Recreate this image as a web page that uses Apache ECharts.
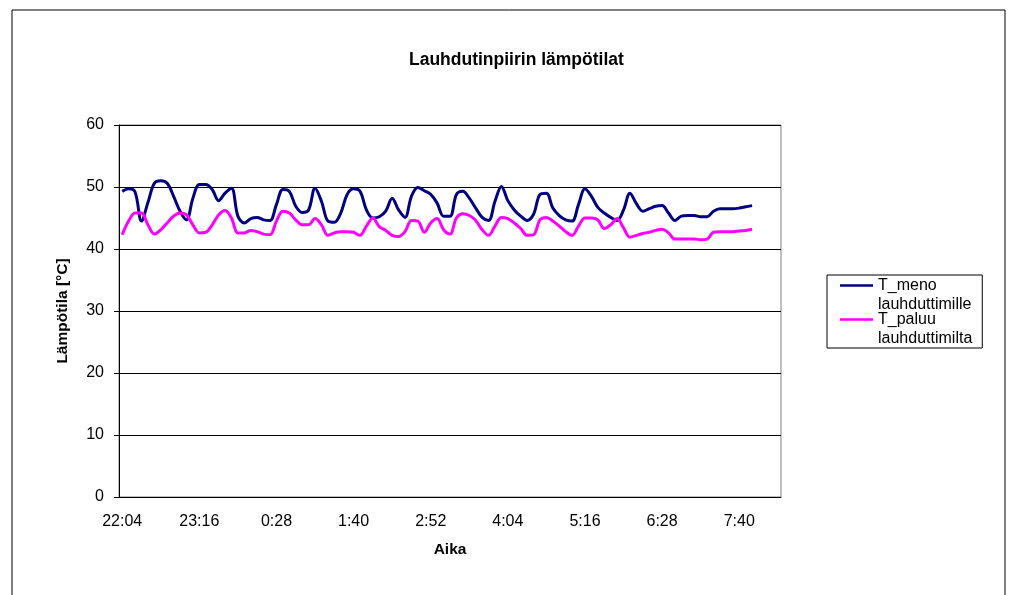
<!DOCTYPE html>
<html>
<head>
<meta charset="utf-8">
<script src="https://cdn.jsdelivr.net/npm/echarts@6/dist/echarts.min.js"></script>
<style>
  html, body { margin: 0; padding: 0; background: #fff; }
  #chart { width: 1013px; height: 595px; }
</style>
</head>
<body>
<div id="chart"></div>
<script>
// aikaleimat 6 min välein
const categories = [
  '22:04', '22:10', '22:16', '22:22', '22:28', '22:34', '22:40', '22:46', '22:52', '22:58', '23:04', '23:10',
  '23:16', '23:22', '23:28', '23:34', '23:40', '23:46', '23:52', '23:58', '0:04', '0:10', '0:16', '0:22',
  '0:28', '0:34', '0:40', '0:46', '0:52', '0:58', '1:04', '1:10', '1:16', '1:22', '1:28', '1:34',
  '1:40', '1:46', '1:52', '1:58', '2:04', '2:10', '2:16', '2:22', '2:28', '2:34', '2:40', '2:46',
  '2:52', '2:58', '3:04', '3:10', '3:16', '3:22', '3:28', '3:34', '3:40', '3:46', '3:52', '3:58',
  '4:04', '4:10', '4:16', '4:22', '4:28', '4:34', '4:40', '4:46', '4:52', '4:58', '5:04', '5:10',
  '5:16', '5:22', '5:28', '5:34', '5:40', '5:46', '5:52', '5:58', '6:04', '6:10', '6:16', '6:22',
  '6:28', '6:34', '6:40', '6:46', '6:52', '6:58', '7:04', '7:10', '7:16', '7:22', '7:28', '7:34',
  '7:40', '7:46', '7:52', '7:58', '8:04', '8:10', '8:16'
]

const tMeno = [
  49.3, 49.7, 49.2, 44.5, 47.5, 50.6, 51.0, 50.6, 48.5, 46.1,
  44.7, 48.2, 50.4, 50.4, 49.6, 47.8, 49.0, 49.8, 45.3, 44.2,
  44.9, 45.1, 44.7, 44.6, 47.2, 49.6, 49.3, 46.9, 45.9, 46.3,
  49.8, 47.7, 44.5, 44.3, 45.8, 48.8, 49.7, 49.3, 46.3, 45.0,
  45.2, 46.1, 48.2, 46.3, 45.1, 48.5, 49.9, 49.4, 48.8, 47.4,
  45.3, 45.3, 48.8, 49.3, 48.2, 46.6, 45.1, 44.6, 47.7, 50.1,
  47.8, 46.3, 45.3, 44.6, 45.6, 48.8, 49.0, 46.6, 45.4, 44.7,
  44.5, 47.2, 49.7, 48.5, 46.7, 45.8, 45.1, 44.6, 46.3, 49.0,
  47.3, 46.1, 46.5, 46.9, 47.0, 45.8, 44.6, 45.3, 45.4, 45.4,
  45.2, 45.2, 46.1, 46.5, 46.5, 46.5, 46.6, 46.8, 47.0
]

const tPaluu = [
  42.3, 44.5, 45.8, 45.8, 43.9, 42.4, 43.1, 44.2, 45.3, 45.8,
  45.5, 43.9, 42.6, 42.7, 43.9, 45.5, 46.2, 45.0, 42.6, 42.6,
  43.0, 42.8, 42.4, 42.3, 44.5, 46.1, 45.8, 44.7, 43.9, 43.9,
  44.9, 43.9, 42.2, 42.6, 42.8, 42.8, 42.7, 42.2, 43.7, 45.0,
  43.6, 43.0, 42.2, 42.0, 42.8, 44.6, 44.5, 42.7, 44.2, 44.9,
  43.1, 42.4, 45.0, 45.7, 45.4, 44.6, 43.1, 42.2, 43.7, 45.1,
  44.9, 44.2, 43.3, 42.2, 42.3, 44.7, 45.1, 44.5, 43.7, 42.8,
  42.2, 43.7, 45.0, 45.0, 44.7, 43.3, 43.9, 44.9, 43.4, 41.9,
  42.2, 42.5, 42.7, 43.0, 43.2, 42.6, 41.6, 41.6, 41.6, 41.6,
  41.5, 41.6, 42.7, 42.8, 42.8, 42.8, 42.9, 43.0, 43.2
]

const yTicks = { min: 0, max: 60, interval: 10 }

const font = 'Liberation Sans, Arial, sans-serif'
// selitteen viiva ensimmäisen tekstirivin kohdalle
const legendIcon = 'path://M0,0h0.05v0.05h-0.05zM0,8.3h33v2.4h-33zM32.95,37.95h0.05v0.05h-0.05z'

const chart = echarts.init(document.getElementById('chart'))

chart.setOption({
  animation: false,
  backgroundColor: '#fff',
  title: {
    text: 'Lauhdutinpiirin lämpötilat',
    left: 404,
    top: 46,
    textStyle: { fontFamily: font, fontSize: 17.5, fontWeight: 'bold', color: '#000' }
  },
  graphic: [{
    type: 'rect',
    shape: { x: 12, y: 10, width: 993, height: 600 },
    style: { fill: 'none', stroke: '#000', lineWidth: 1 },
    silent: true
  }],
  legend: {
    orient: 'vertical',
    left: 827,
    top: 275,
    padding: [1, 10, 0, 13],
    itemGap: -4,
    itemWidth: 33,
    itemHeight: 38,
    icon: legendIcon,
    borderColor: '#000',
    borderWidth: 1,
    itemStyle: { borderWidth: 0 },
    textStyle: { fontFamily: font, fontSize: 16, color: '#000', lineHeight: 19 },
    formatter: name => name.replace(' ', '\n')
  },
  grid: {
    left: 119,
    right: 232,
    top: 125,
    bottom: 98,
    show: true,
    borderColor: '#808080',
    borderWidth: 1
  },
  xAxis: {
    type: 'category',
    data: categories,
    boundaryGap: true,
    name: 'Aika',
    nameLocation: 'middle',
    nameGap: 45,
    nameTextStyle: { fontFamily: font, fontSize: 15.5, fontWeight: 'bold', color: '#000' },
    axisLine: { lineStyle: { color: '#000', width: 1 } },
    axisTick: { interval: 11, length: 5, lineStyle: { color: '#000' } },
    axisLabel: { interval: 11, margin: 17, fontFamily: font, fontSize: 16, color: '#000' },
    splitLine: { show: false }
  },
  yAxis: {
    type: 'value',
    min: yTicks.min,
    max: yTicks.max,
    interval: yTicks.interval,
    name: 'Lämpötila [°C]',
    nameLocation: 'middle',
    nameGap: 48,
    nameTextStyle: { fontFamily: font, fontSize: 15.5, fontWeight: 'bold', color: '#000' },
    axisLine: { show: true, lineStyle: { color: '#000', width: 1 } },
    axisTick: { show: true, length: 5, lineStyle: { color: '#000' } },
    axisLabel: { margin: 15, fontFamily: font, fontSize: 16, color: '#000' },
    splitLine: { lineStyle: { color: '#000', width: 1 } }
  },
  series: [
    {
      name: 'T_meno lauhduttimille',
      type: 'line',
      data: tMeno,
      smooth: 0.35,
      symbol: 'none',
      lineStyle: { color: '#000080', width: 3 },
      itemStyle: { color: '#000080' }
    },
    {
      name: 'T_paluu lauhduttimilta',
      type: 'line',
      data: tPaluu,
      smooth: 0.35,
      symbol: 'none',
      lineStyle: { color: '#ff00ff', width: 3 },
      itemStyle: { color: '#ff00ff' }
    }
  ]
})
</script>
</body>
</html>
